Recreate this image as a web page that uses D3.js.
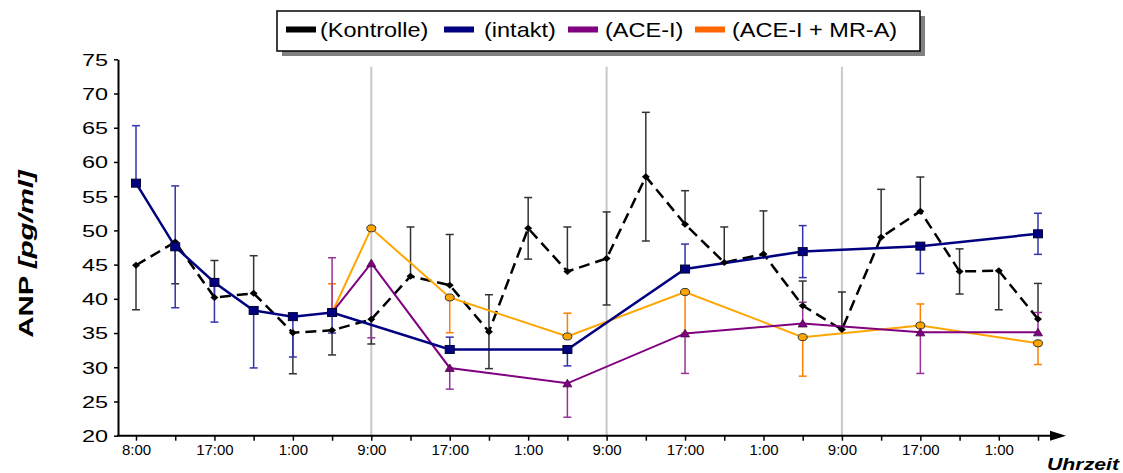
<!DOCTYPE html>
<html>
<head>
<meta charset="utf-8">
<script src="https://cdn.jsdelivr.net/npm/d3@7"></script>
<style>
body { margin: 0; background: #fff; }
svg { font-family: "Liberation Sans", Arial, sans-serif; }
</style>
</head>
<body>
<div class="chart"></div>
<script>
// tick labels, one per measurement slot
var timeLabels = ["8:00", "", "17:00", "", "1:00", "", "9:00", "", "17:00", "", "1:00", "",
                  "9:00", "", "17:00", "", "1:00", "", "9:00", "", "17:00", "", "1:00", ""];
var gridSlots = [6, 12, 18];
var yTicks = [20, 25, 30, 35, 40, 45, 50, 55, 60, 65, 70, 75];

// Kontrolle
var kontrolleSlots = [0, 1, 2, 3, 4, 5, 6, 7, 8, 9, 10, 11, 12, 13, 14, 15, 16, 17, 18, 19, 20, 21, 22, 23];
var kontrolleValues = [44.9, 48.3, 40.2, 40.8, 35.05, 35.4, 37.0, 43.3, 42.0, 35.2, 50.3, 44.0,
                       45.9, 57.85, 50.9, 45.3, 46.55, 39.0, 35.5, 49.0, 52.8, 44.0, 44.1, 37.05];
var kontrolleErr = [6.5, 6.1, 5.4, 5.5, 6.0, 3.6, 3.6, 7.2, 7.4, 5.4, 4.5, 6.5,
                    6.8, 9.4, 4.9, 5.2, 6.3, 3.6, 5.5, 7.0, 5.0, 3.3, 5.7, 5.2];
var kontrolleDir = ["d", "d", "u", "u", "d", "d", "d", "u", "u", "b", "b", "u",
                    "b", "b", "u", "u", "u", "u", "u", "u", "u", "b", "d", "u"];

// intakt
var intaktSlots = [0, 1, 2, 3, 4, 5, 8, 11, 14, 17, 20, 23];
var intaktValues = [56.9, 47.6, 42.4, 38.3, 37.4, 38.0, 32.6, 32.6, 44.35, 46.9, 47.7, 49.5];
var intaktErr = [8.4, 8.9, 5.8, 8.4, 5.9, 3.0, 1.8, 2.4, 3.65, 3.8, 4.0, 3.0];
var intaktDir = ["u", "b", "d", "d", "d", "d", "u", "d", "u", "b", "d", "b"];

// ACE-I
var aceSlots = [5, 6, 8, 11, 14, 17, 20, 23];
var aceValues = [38.0, 45.2, 29.9, 27.65, 34.95, 36.4, 35.1, 35.1];
var aceErr = [8.0, 10.9, 3.1, 4.95, 5.85, 3.1, 6.0, 2.9];
var aceDir = ["u", "d", "d", "d", "d", "u", "d", "u"];

// ACE-I + MR-A
var mraSlots = [5, 6, 8, 11, 14, 17, 20, 23];
var mraValues = [38.0, 50.3, 40.2, 34.5, 41.0, 34.4, 36.1, 33.5];
var mraErr = [4.2, 0, 5.15, 3.4, 6.0, 5.7, 3.15, 3.1];
var mraDir = ["u", "d", "d", "u", "d", "d", "u", "d"];

var legendNames = ["(Kontrolle)", "(intakt)", "(ACE-I)", "(ACE-I + MR-A)"];
var legendColors = ["#000000", "#000080", "#800080", "#ff6600"];

var svgWidth = 1123;
var svgHeight = 473;

var svg = d3.select('.chart')
  .append('svg')
  .attr('width', svgWidth)
  .attr('height', svgHeight);

var x = d3.scaleLinear().domain([0, 23]).range([136, 1038]);
var y = d3.scaleLinear().domain([20, 75]).range([435.7, 59.3]);

function makePoints(slots, values, err, dir) {
  return slots.map(function(s, k) {
    return {i: s, v: values[k], e: err[k], d: dir[k]};
  });
}

var series = [
  {name: "Kontrolle", pts: makePoints(kontrolleSlots, kontrolleValues, kontrolleErr, kontrolleDir),
   line: "#000000", width: 2.5, dash: "11,6", bar: "#333333", marker: "diamond"},
  {name: "ACE-I + MR-A", pts: makePoints(mraSlots, mraValues, mraErr, mraDir),
   line: "#ffa500", width: 2, dash: null, bar: "#ff8000", marker: "circle"},
  {name: "ACE-I", pts: makePoints(aceSlots, aceValues, aceErr, aceDir),
   line: "#800080", width: 2, dash: null, bar: "#993399", marker: "triangle"},
  {name: "intakt", pts: makePoints(intaktSlots, intaktValues, intaktErr, intaktDir),
   line: "#000080", width: 2.5, dash: null, bar: "#3333aa", marker: "square"}
];

// vertical grid lines at 9:00
svg.append('g').selectAll('line')
  .data(gridSlots)
  .enter().append('line')
  .attr('x1', function(d) { return x(d); })
  .attr('x2', function(d) { return x(d); })
  .attr('y1', 66.7)
  .attr('y2', 435)
  .attr('stroke', '#c8c8c8')
  .attr('stroke-width', 2);

// y axis
var yAxis = svg.append('g')
  .attr('transform', 'translate(118,0)')
  .call(d3.axisLeft(y).tickValues(yTicks).tickSize(4).tickSizeOuter(0));
yAxis.select('.domain').attr('stroke-width', 2);
yAxis.selectAll('.tick line').attr('stroke-width', 1.5);
yAxis.selectAll('.tick text')
  .attr('font-size', 16.5)
  .attr('fill', '#000')
  .attr('x', 0)
  .attr('dy', '0.36em')
  .attr('transform', 'translate(-10,0) scale(1.42,1)');

// x axis
var xAxis = svg.append('g')
  .attr('transform', 'translate(0,435.7)')
  .call(d3.axisBottom(x).tickValues(d3.range(24))
    .tickFormat(function(d) { return timeLabels[d]; })
    .tickSize(5).tickSizeOuter(0));
xAxis.select('.domain').remove();
xAxis.selectAll('.tick line').attr('stroke-width', 1.5);
xAxis.selectAll('.tick text')
  .attr('font-size', 15)
  .attr('fill', '#000')
  .attr('y', 9);
svg.append('line')
  .attr('x1', 117).attr('x2', 1052)
  .attr('y1', 435.7).attr('y2', 435.7)
  .attr('stroke', '#000').attr('stroke-width', 2);
svg.append('path')
  .attr('d', 'M1050,430.7L1066,435.7L1050,440.7Z')
  .attr('fill', '#000');

// axis titles
var yTitle = svg.append('text')
  .attr('transform', 'translate(26,254) rotate(-90) scale(1.4,1)')
  .attr('text-anchor', 'middle')
  .attr('dy', '0.35em')
  .attr('font-size', 21)
  .attr('font-weight', 'bold');
yTitle.append('tspan').text('ANP ');
yTitle.append('tspan').attr('font-style', 'italic').text('[pg/ml]');

svg.append('text')
  .attr('transform', 'translate(1047,470) scale(1.29,1)')
  .attr('font-size', 16.5)
  .attr('font-weight', 'bold')
  .attr('font-style', 'italic')
  .text('Uhrzeit');

// error bars
series.forEach(function(s) {
  var g = svg.append('g').attr('stroke', s.bar).attr('stroke-width', 1.5);
  s.pts.forEach(function(p) {
    if (!p.e) return;
    var top = (p.d === 'u' || p.d === 'b') ? p.v + p.e : p.v;
    var bot = (p.d === 'd' || p.d === 'b') ? p.v - p.e : p.v;
    var cx = x(p.i);
    g.append('line').attr('x1', cx).attr('x2', cx).attr('y1', y(top)).attr('y2', y(bot));
    if (top !== p.v) g.append('line').attr('x1', cx - 4).attr('x2', cx + 4).attr('y1', y(top)).attr('y2', y(top));
    if (bot !== p.v) g.append('line').attr('x1', cx - 4).attr('x2', cx + 4).attr('y1', y(bot)).attr('y2', y(bot));
  });
});

// lines
var line = d3.line()
  .x(function(d) { return x(d.i); })
  .y(function(d) { return y(d.v); });

series.forEach(function(s) {
  svg.append('path')
    .datum(s.pts)
    .attr('d', line)
    .attr('fill', 'none')
    .attr('stroke', s.line)
    .attr('stroke-width', s.width)
    .attr('stroke-dasharray', s.dash);
});

// markers
series.forEach(function(s) {
  var g = svg.append('g');
  s.pts.forEach(function(p) {
    var cx = x(p.i), cy = y(p.v);
    if (s.marker === 'diamond') {
      g.append('path')
        .attr('d', 'M' + (cx - 4) + ',' + cy + 'L' + cx + ',' + (cy - 3.5) + 'L' + (cx + 4) + ',' + cy + 'L' + cx + ',' + (cy + 3.5) + 'Z')
        .attr('fill', '#000');
    } else if (s.marker === 'square') {
      g.append('rect')
        .attr('x', cx - 4.5).attr('y', cy - 4)
        .attr('width', 9).attr('height', 8)
        .attr('fill', '#000080').attr('stroke', '#000033').attr('stroke-width', 1);
    } else if (s.marker === 'triangle') {
      g.append('path')
        .attr('d', 'M' + (cx - 4.5) + ',' + (cy + 3.5) + 'L' + cx + ',' + (cy - 4) + 'L' + (cx + 4.5) + ',' + (cy + 3.5) + 'Z')
        .attr('fill', '#800080').attr('stroke', '#400040').attr('stroke-width', 0.8);
    } else {
      g.append('ellipse')
        .attr('cx', cx).attr('cy', cy).attr('rx', 4.5).attr('ry', 3.5)
        .attr('fill', '#ffa500').attr('stroke', '#333').attr('stroke-width', 1);
    }
  });
});

// legend
var legend = svg.append('g');
legend.append('rect')
  .attr('x', 282).attr('y', 16).attr('width', 643).attr('height', 40)
  .attr('fill', '#808080');
legend.append('rect')
  .attr('x', 277).attr('y', 11).attr('width', 643).attr('height', 40)
  .attr('fill', '#fff').attr('stroke', '#000').attr('stroke-width', 1.5);

var patchX = [286, 444, 568, 695];
var labelX = [320, 484, 605, 732];
legend.selectAll('rect.patch')
  .data(legendNames)
  .enter().append('rect')
  .attr('class', 'patch')
  .attr('x', function(d, k) { return patchX[k]; })
  .attr('y', 26.5)
  .attr('width', 30)
  .attr('height', 6)
  .attr('fill', function(d, k) { return legendColors[k]; });
legend.selectAll('text')
  .data(legendNames)
  .enter().append('text')
  .attr('transform', function(d, k) { return 'translate(' + labelX[k] + ',37) scale(1.12,1)'; })
  .attr('font-size', 21)
  .text(function(d) { return d; });
</script>
</body>
</html>
